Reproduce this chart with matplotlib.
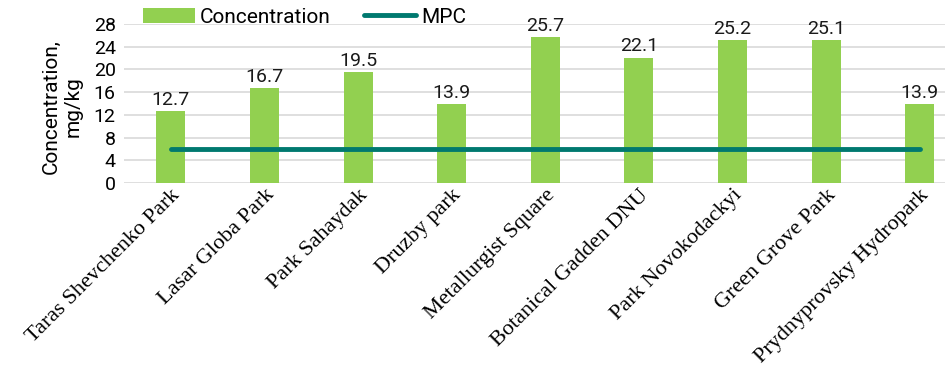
import matplotlib.pyplot as plt
import numpy as np

sites = ["Taras Shevchenko Park", "Lasar Globa Park", "Park Sahaydak", "Druzby park",
         "Metallurgist Square", "Botanical Gadden DNU", "Park Novokodackyi",
         "Green Grove Park", "Prydnyprovsky Hydropark"]
concentration = [12.7, 16.7, 19.5, 13.9, 25.7, 22.1, 25.2, 25.1, 13.9]
mpc = [6] * len(sites)
yticks = [0, 4, 8, 12, 16, 20, 24, 28]

plt.rcParams['font.family'] = ['Roboto', 'DejaVu Sans']

fig = plt.figure(figsize=(9.48, 3.77), dpi=100)
ax = fig.add_axes([124/948, 194/377, (945-124)/948, 159/377])

x = np.arange(len(sites))
bars = ax.bar(x, concentration, width=0.31, color="#92D050", label="Concentration", zorder=2)
line, = ax.plot(x, mpc, color="#00796F", lw=3.5, solid_capstyle="round", label="MPC", zorder=3)

for xi, v in zip(x, concentration):
    ax.text(xi, v + 0.4, f"{v}", ha="center", va="bottom", fontsize=14, color="#1a1a1a")

ax.set_xlim(-0.5, 8.27)
ax.set_ylim(0, 28)
ax.set_yticks(yticks)
ax.tick_params(axis="y", length=0, labelsize=14, pad=6)
ax.tick_params(axis="x", length=0, pad=2)
ax.yaxis.grid(True, color="#d9d9d9", lw=1.2, zorder=0)
ax.set_axisbelow(True)
for s in ax.spines.values():
    s.set_visible(False)

ax.set_xticks(x)
ax.set_xticklabels(sites, rotation=45, ha="right", rotation_mode="anchor",
                   fontsize=16, family="Liberation Serif")

ax.set_ylabel("Concentration,\nmg/kg", fontsize=15, linespacing=1.2)
ax.yaxis.set_label_coords(-0.05, 0.48)

ax.legend([bars, line], ["Concentration", "MPC"], loc="center left",
          bbox_to_anchor=(0.023, 1.044), ncol=2, frameon=False,
          fontsize=15, handlelength=2.5, columnspacing=1.6, handletextpad=0.25,
          borderaxespad=0, borderpad=0)

fig.savefig("out.png", dpi=100)
